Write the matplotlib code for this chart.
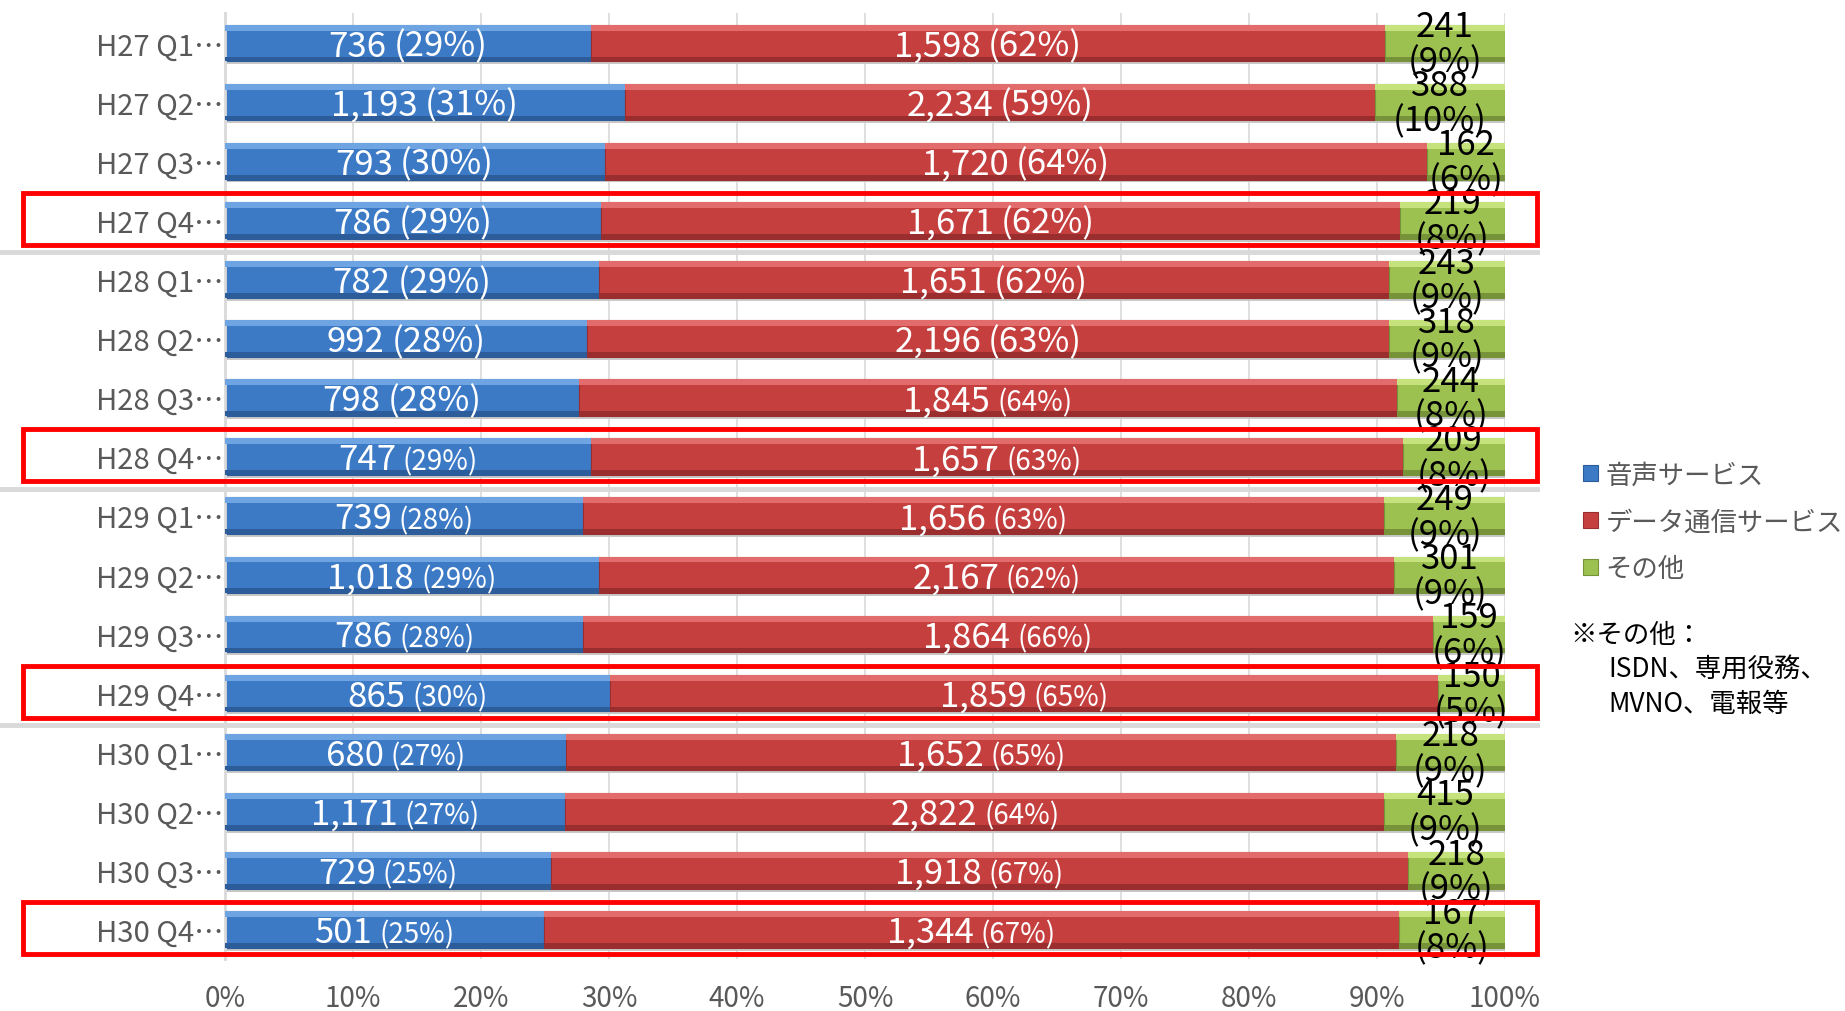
import numpy as np
import matplotlib
matplotlib.use("Agg")
import matplotlib.pyplot as plt
from matplotlib.patches import Rectangle
from matplotlib.transforms import blended_transform_factory, Affine2D

#data
periods = ["H27 Q1", "H27 Q2", "H27 Q3", "H27 Q4",
           "H28 Q1", "H28 Q2", "H28 Q3", "H28 Q4",
           "H29 Q1", "H29 Q2", "H29 Q3", "H29 Q4",
           "H30 Q1", "H30 Q2", "H30 Q3", "H30 Q4"]
voice = [736, 1193, 793, 786, 782, 992, 798, 747, 739, 1018, 786, 865, 680, 1171, 729, 501]
data = [1598, 2234, 1720, 1671, 1651, 2196, 1845, 1657, 1656, 2167, 1864, 1859, 1652, 2822, 1918, 1344]
other = [241, 388, 162, 219, 243, 318, 244, 209, 249, 301, 159, 150, 218, 415, 218, 167]
voice_pct = [29, 31, 30, 29, 29, 28, 28, 29, 28, 29, 28, 30, 27, 27, 25, 25]
data_pct = [62, 59, 64, 62, 62, 63, 64, 63, 63, 62, 66, 65, 65, 64, 67, 67]
other_pct = [9, 10, 6, 8, 9, 9, 8, 8, 9, 9, 6, 5, 9, 9, 9, 8]
series_names = ["音声サービス", "データ通信サービス", "その他"]
x_ticks = np.arange(0, 1.01, 0.1)
x_labels = [f"{int(round(t * 100))}%" for t in x_ticks]

#styling
FONT = ["Noto Sans CJK JP", "DejaVu Sans"]
plt.rcParams["font.family"] = FONT
DPI = 100
BIG = 25
SMALL = 20
BAR_H = 0.62
colors = {"main": ["#3C7AC6", "#C63F3F", "#9CC150"],
          "light": ["#6FA4E2", "#E26B6B", "#C6E27C"],
          "dark": ["#2C5C9A", "#9A2E2E", "#76933A"]}

v = np.array(voice, float)
d = np.array(data, float)
o = np.array(other, float)
tot = v + d + o
shares = [v / tot, d / tot, o / tot]
y = np.arange(len(periods))

fig = plt.figure(figsize=(18.45, 10.12), dpi=DPI)
ax = fig.add_axes([0.122, 0.0514, 0.6937, 0.9343])

#bars with a simple bevel look
left = np.zeros(len(periods))
handles = []
ax.barh(y + 0.05, np.ones(len(periods)), height=BAR_H, color="#C8C8C8", zorder=1)
for i, s in enumerate(shares):
    h = ax.barh(y, s, left=left, height=BAR_H, color=colors["main"][i], zorder=2,
                edgecolor=colors["dark"][i], linewidth=0.8, label=series_names[i])
    ax.barh(y - BAR_H / 2 + 0.05, s, left=left, height=0.1, color=colors["light"][i], zorder=3, linewidth=0)
    ax.barh(y + BAR_H / 2 - 0.04, s, left=left, height=0.08, color=colors["dark"][i], zorder=3, linewidth=0)
    handles.append(h)
    left = left + s

#labels
pairs = []
def pair_label(xc, yc, num, pct, pct_size):
    t1 = ax.text(xc, yc, num, fontsize=BIG, color="white", ha="left", va="baseline", zorder=6)
    t2 = ax.text(xc, yc, pct, fontsize=pct_size, color="white", ha="left", va="baseline", zorder=6)
    pairs.append((t1, t2))

for r in range(len(periods)):
    vs = SMALL if r >= 7 else BIG
    ds = SMALL if r >= 6 else BIG
    pair_label(shares[0][r] / 2, r, f"{voice[r]:,}", f"({voice_pct[r]}%)", vs)
    pair_label(shares[0][r] + shares[1][r] / 2, r, f"{data[r]:,}", f"({data_pct[r]}%)", ds)
    ax.text(1 - shares[2][r] / 2, r + 0.02, f"{other[r]:,}\n({other_pct[r]}%)", fontsize=BIG,
            color="black", ha="center", va="center", linespacing=1.0, zorder=7)

#axes
ax.set_xlim(0, 1)
ax.set_ylim(len(periods) - 0.5, -0.5)
ax.set_xticks(x_ticks)
ax.set_xticklabels(x_labels)
ax.set_yticks(y)
ax.set_yticklabels([p + "⋯" for p in periods])
ax.tick_params(axis="x", length=0, pad=17, labelsize=20, labelcolor="#595959")
ax.tick_params(axis="y", length=0, pad=1, labelsize=21, labelcolor="#595959")
ax.grid(axis="x", color="#D9D9D9", linewidth=1.2, zorder=0)
ax.set_axisbelow(True)
for sp in ["top", "right", "bottom"]:
    ax.spines[sp].set_visible(False)
ax.spines["left"].set_color("#D9D9D9")
ax.spines["left"].set_linewidth(2)

#group separators and red boxes
trans = blended_transform_factory(fig.transFigure, ax.transData)
for r in [3, 7, 11]:
    ax.plot([0, 0.833], [r + 0.54, r + 0.54], transform=trans, color="#D9D9D9", lw=3.5,
            clip_on=False, zorder=4)
for r in [3, 7, 11, 15]:
    ax.add_patch(Rectangle((0.0127, r - 0.46), 0.8203, 0.88, transform=trans, fill=False,
                           edgecolor="#FF0000", linewidth=3.5, clip_on=False, zorder=8))

#legend and note
leg = fig.legend(handles=handles, labels=series_names, loc="upper left", bbox_to_anchor=(0.851, 0.556),
                 frameon=False, borderpad=0, handlelength=0.55, handleheight=0.55, handletextpad=0.3,
                 labelspacing=0.75, prop={"size": 19})
for t in leg.get_texts():
    t.set_color("#595959")
fig.text(0.851, 0.372, "※その他：", fontsize=19, va="center", ha="left")
fig.text(0.872, 0.338, "ISDN、専用役務、", fontsize=19, va="center", ha="left")
fig.text(0.872, 0.304, "MVNO、電報等", fontsize=19, va="center", ha="left")

#center the number+percent pairs as one label
fig.canvas.draw()
rend = fig.canvas.get_renderer()
gap = 0.2 * BIG * DPI / 72
shift = -0.5 * 0.72 * BIG * DPI / 72
for t1, t2 in pairs:
    w1 = t1.get_window_extent(rend).width
    w2 = t2.get_window_extent(rend).width
    total = w1 + gap + w2
    t1.set_transform(ax.transData + Affine2D().translate(-total / 2, shift))
    t2.set_transform(ax.transData + Affine2D().translate(-total / 2 + w1 + gap, shift))

plt.savefig("out.png", dpi=DPI)
